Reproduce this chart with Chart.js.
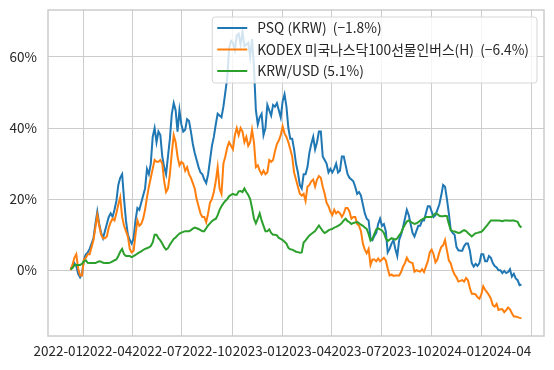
<!DOCTYPE html>
<html>
<head>
<meta charset="utf-8">
<script src="https://cdn.jsdelivr.net/npm/chart.js@4/dist/chart.umd.min.js"></script>
<style>
body { margin: 0; background: #fff; }
</style>
</head>
<body>
<canvas id="chart" width="554" height="370"></canvas>
<script>
// twice-weekly closes, cumulative return in %
let firstDate = '2021-12-09'
let stepDays = 3.5

let psq = [
    0.5, 1, 2, 1.2, -1, -2, -1, 3, 4.5, 5,
    6, 7.5, 9, 13, 16.5, 13, 10.5, 9, 11, 13,
    15, 16, 15, 17, 19.5, 24, 26, 27, 20, 14,
    10, 8.5, 7.5, 9, 14, 17.5, 17, 19, 21, 23,
    28.5, 27, 30, 37.5, 40, 36, 39, 38, 32, 29,
    27, 32, 37, 44, 47, 45, 39, 45, 41, 39,
    39.5, 42.5, 42, 39, 35.5, 33, 31, 29, 27.5, 27,
    25.5, 24.5, 27, 31, 35, 37.5, 41, 44, 43.5, 43,
    46, 50, 54, 62.5, 64.5, 64, 62, 66, 66.5, 63.5,
    67, 63, 63.5, 64, 60, 65, 57, 45, 41, 43,
    44, 38, 40, 46.5, 45, 43.5, 46.5, 46, 47, 45,
    43, 47.5, 49.5, 46, 40, 37, 37, 34, 30, 27.5,
    24, 23, 27, 27, 29, 33, 35.5, 37.5, 34, 36,
    39, 39, 32, 31, 30, 27.5, 28.5, 27.5, 28.5, 30,
    27.5, 28, 32, 32, 29.5, 27, 26, 25.5, 25, 23.5,
    21.5, 22, 21, 18.5, 16, 14.5, 14, 9, 8.5, 9.6,
    10.5, 13, 14.5, 12.5, 13, 11, 5, 6, 7.5, 8.5,
    6, 4, 8.5, 10, 12, 14.5, 17, 15.5, 13, 10.5,
    9.5, 11, 12.5, 12.5, 14, 14, 16, 18, 18, 16.5,
    15, 15.5, 17, 18.5, 21, 24, 23.5, 20, 16, 11.3,
    10.5, 10, 6.5, 5.6, 5.5, 5.5, 6.8, 7.5, 7.5, 5.5,
    2, 1, 1.8, 1.2, 2, 4.5, 4.5, 2.5, 2.5, 4,
    3.5, 2, 1.2, 0.8, 0, 0, -0.8, -0.2, -0.8, -0.5,
    0.3, -1.8, -1, -2.3, -2.8, -4.2, -4
]

let kodex = [
    0, 1.5, 3.5, 4.5, 0.5, -1.5, -1.5, 3, 3.5, 4.5,
    4.5, 6.5, 8.5, 12, 15.5, 12.5, 10, 9, 9, 9.5,
    12, 13.5, 14.5, 14, 16, 18.5, 20.5, 15, 12.5, 11,
    9.5, 6, 5, 5.5, 10, 14, 12.5, 13, 14.5, 17,
    20.5, 23.5, 26, 28.5, 31, 30.5, 30.5, 31, 30, 25,
    22, 23, 27, 33, 38, 36, 32, 29.5, 30.5, 30,
    28, 29, 27, 26, 24.5, 23, 20, 18, 16, 15,
    15, 13.5, 16, 19, 20, 22, 25, 29, 23, 21.5,
    30, 32, 34.5, 36, 35, 34, 38, 40, 38, 40,
    39, 36, 37.5, 35, 36, 39.5, 36, 29, 29.5, 28,
    27, 28, 27, 27.5, 31, 30.5, 31, 33.5, 35.5, 36.5,
    38, 40.5, 38.5, 37.5, 36, 34, 32, 27.5, 25.5, 23.5,
    21.5, 21, 21.5, 19.5, 23.5, 24, 25, 25.5, 23.5, 25.5,
    26.5, 26, 23.5, 21.5, 19, 18, 16.5, 15.5, 17, 16,
    16.5, 16, 15, 16, 17.5, 17.5, 16.5, 14.5, 15, 15,
    13, 12.5, 11, 7.5, 5.8, 4.8, 6, 1.5, 3, 3,
    2.5, 3.3, 2.5, 3, 3.5, 2.8, 0.5, -1.5, -1.2, -1.6,
    -1.5, -1.5, -1.5, -0.5, 1, 2, 3.5, 2.5, 2.2, 2,
    -0.4, 0, -0.2, -0.4, 0.3, -0.5, 1, 2.5, 5, 5.8,
    4.5, 2.2, 3, 5, 6.5, 7, 8.5, 5.6, 2.8, 1.9,
    0, -1.2, -2, -3.2, -3, -2.8, -3.2, -2.2, -2.8, -5,
    -6.6, -6.6, -6.8, -7.6, -8, -6.8, -4.5, -5.5, -6.2, -7,
    -8, -9.8, -10.2, -9.5, -11.2, -11, -11, -11.8, -11.2, -10.5,
    -11, -12.1, -13, -13, -13.2, -13.4, -13.5
]

let krwusd = [
    0.2, 0.6, 1.4, 1.5, 1.5, 1.5, 1.8, 2.5, 2.8, 2.1,
    2, 2, 2, 2, 2.3, 2.5, 2.4, 2.1, 2, 2,
    2, 2.2, 2.5, 2.8, 3, 4, 5.2, 6, 4.5, 4,
    4, 4, 3.7, 4, 4.3, 4.7, 5, 5.3, 5.7, 6,
    6.2, 6.4, 6.8, 7.8, 10, 10, 9, 8.4, 7.5, 6.5,
    5.8, 6.2, 7.2, 8, 8.8, 9.2, 9.8, 10.3, 10.6, 10.8,
    11, 11, 11, 11.3, 11.7, 12, 11.8, 11.6, 11.3, 11,
    11, 11.8, 12.6, 13.2, 13.8, 14.2, 14.4, 15.5, 17, 18,
    18.8, 19.5, 20, 20.8, 21.2, 21.5, 21.2, 21.2, 22.2, 22.3,
    22, 23, 22, 21.2, 20, 17.5, 14.5, 13.2, 14.5, 16,
    14, 12.5, 11, 11, 11.5, 10.5, 10, 10, 9.8, 9.1,
    8.8, 8.5, 8, 7.5, 6.3, 5.9, 5.8, 5.5, 5.2, 5.1,
    4.9, 5, 7.8, 8.4, 9.1, 9.8, 10.2, 10.6, 11, 11.8,
    12.6, 11.8, 11, 10.5, 10.8, 11.2, 11.5, 11.6, 12, 12.2,
    12.5, 12.8, 13.3, 14, 14.5, 13.8, 13.5, 13, 13.3, 13.4,
    13.6, 13.2, 12.8, 12.5, 12, 11.6, 10.2, 8.3, 8.8, 10.2,
    11.5, 11.8, 11.5, 11.2, 10.5, 9, 8.2, 8.6, 9, 8.8,
    8.6, 9, 9.8, 10.5, 11.8, 12.8, 13.7, 14, 13.6, 13.3,
    13, 13.2, 13.5, 14, 14.3, 14.6, 15, 15, 15, 15,
    15.5, 16, 15.8, 15.3, 15.2, 15.2, 15.3, 15.2, 13, 11.3,
    11, 10.9, 10.7, 10.5, 10.6, 11, 11.3, 11, 10.5, 10,
    9.5, 10, 10.4, 10.5, 10.7, 10.8, 11.3, 12, 12.6, 13.3,
    14, 14, 14, 14, 14, 13.9, 13.8, 14, 14, 14,
    13.9, 14, 14, 13.8, 13.6, 12.5, 12
]

let seriesLabels = ['PSQ (KRW)  (\u22121.8%)', 'KODEX 미국나스닥100선물인버스(H)  (\u22126.4%)', 'KRW/USD (5.1%)']
let seriesColors = ['#1f77b4', '#ff7f0e', '#2ca02c']
let xTickLabels = ['2022-01', '2022-04', '2022-07', '2022-10', '2023-01', '2023-04', '2023-07', '2023-10', '2024-01', '2024-04']
let yTickValues = [0, 20, 40, 60]
let yMin = -18.5
let yMax = 73.2

const DAY = 86400000
const FONT = "'Noto Sans CJK KR', 'Noto Sans', sans-serif"

function seriesDates(start, step, count) {
    let t0 = Date.parse(start + 'T00:00:00Z')
    let dates = []
    for (let i = 0; i < count; i++) dates.push(t0 + i * step * DAY)
    return dates
}

function monthStart(label) {
    return Date.UTC(+label.slice(0, 4), +label.slice(5, 7) - 1, 1)
}

function formatMonth(value) {
    let d = new Date(value)
    return d.getUTCFullYear() + '-' + String(d.getUTCMonth() + 1).padStart(2, '0')
}

let dates = seriesDates(firstDate, stepDays, psq.length)
let span = dates[dates.length - 1] - dates[0]
let xMin = dates[0] - span * 0.05
let xMax = dates[dates.length - 1] + span * 0.05

function makeDataset(label, values, color, order) {
    return {
        label: label,
        data: values.map((v, i) => ({x: dates[i], y: v})),
        borderColor: color,
        backgroundColor: color,
        borderWidth: 2,
        pointRadius: 0,
        tension: 0,
        fill: false,
        order: order
    }
}

function noPadding(scale) {
    scale.paddingTop = 0
    scale.paddingBottom = 0
    scale.paddingLeft = 0
    scale.paddingRight = 0
}

let frameAndLegend = {
    id: 'frameAndLegend',
    afterDatasetsDraw(chart) {
        let ctx = chart.ctx
        let area = chart.chartArea
        ctx.save()
        ctx.strokeStyle = '#cccccc'
        ctx.lineWidth = 1.5
        ctx.strokeRect(area.left, area.top, area.right - area.left, area.bottom - area.top)

        ctx.font = '13.8px ' + FONT
        let sets = chart.data.datasets
        let textW = Math.max(...sets.map(ds => ctx.measureText(ds.label).width))
        let w = 45 + textW + 8
        let h = 66
        let x = area.right - 7 - w
        let y = area.top + 7
        ctx.beginPath()
        ctx.roundRect(x, y, w, h, 3)
        ctx.fillStyle = 'rgba(255,255,255,0.8)'
        ctx.fill()
        ctx.strokeStyle = '#d6d6d6'
        ctx.lineWidth = 1
        ctx.stroke()

        ctx.textBaseline = 'middle'
        ctx.textAlign = 'left'
        sets.forEach((ds, i) => {
            let cy = y + 11 + i * 21.5
            ctx.strokeStyle = ds.borderColor
            ctx.lineWidth = 2
            ctx.beginPath()
            ctx.moveTo(x + 5, cy)
            ctx.lineTo(x + 35, cy)
            ctx.stroke()
            ctx.fillStyle = '#262626'
            ctx.fillText(ds.label, x + 45, cy)
        })
        ctx.restore()
    }
}

let canvas = document.getElementById('chart')
new Chart(canvas.getContext('2d'), {
    type: 'line',
    data: {
        datasets: [
            makeDataset(seriesLabels[0], psq, seriesColors[0], 3),
            makeDataset(seriesLabels[1], kodex, seriesColors[1], 2),
            makeDataset(seriesLabels[2], krwusd, seriesColors[2], 1)
        ]
    },
    options: {
        responsive: false,
        animation: false,
        devicePixelRatio: 1,
        layout: {padding: {left: 0, top: 10, right: 10, bottom: 0}},
        plugins: {
            legend: {display: false},
            tooltip: {enabled: false}
        },
        scales: {
            x: {
                type: 'linear',
                min: xMin,
                max: xMax,
                afterBuildTicks: scale => {
                    scale.ticks = xTickLabels.map(l => ({value: monthStart(l)}))
                },
                afterFit: scale => {
                    scale.height = 34
                    noPadding(scale)
                },
                grid: {color: '#cccccc', lineWidth: 1, drawTicks: false},
                border: {display: false},
                ticks: {
                    autoSkip: false,
                    maxRotation: 0,
                    minRotation: 0,
                    align: 'end',
                    padding: 7,
                    color: '#262626',
                    font: {family: FONT, size: 13.5},
                    callback: value => formatMonth(value)
                }
            },
            y: {
                min: yMin,
                max: yMax,
                afterBuildTicks: scale => {
                    scale.ticks = yTickValues.map(v => ({value: v}))
                },
                afterFit: scale => {
                    scale.width = 48
                    noPadding(scale)
                },
                grid: {color: '#cccccc', lineWidth: 1, drawTicks: false},
                border: {display: false},
                ticks: {
                    padding: 11,
                    color: '#262626',
                    font: {family: FONT, size: 13.5},
                    callback: value => value + '%'
                }
            }
        }
    },
    plugins: [frameAndLegend]
})
</script>
</body>
</html>
